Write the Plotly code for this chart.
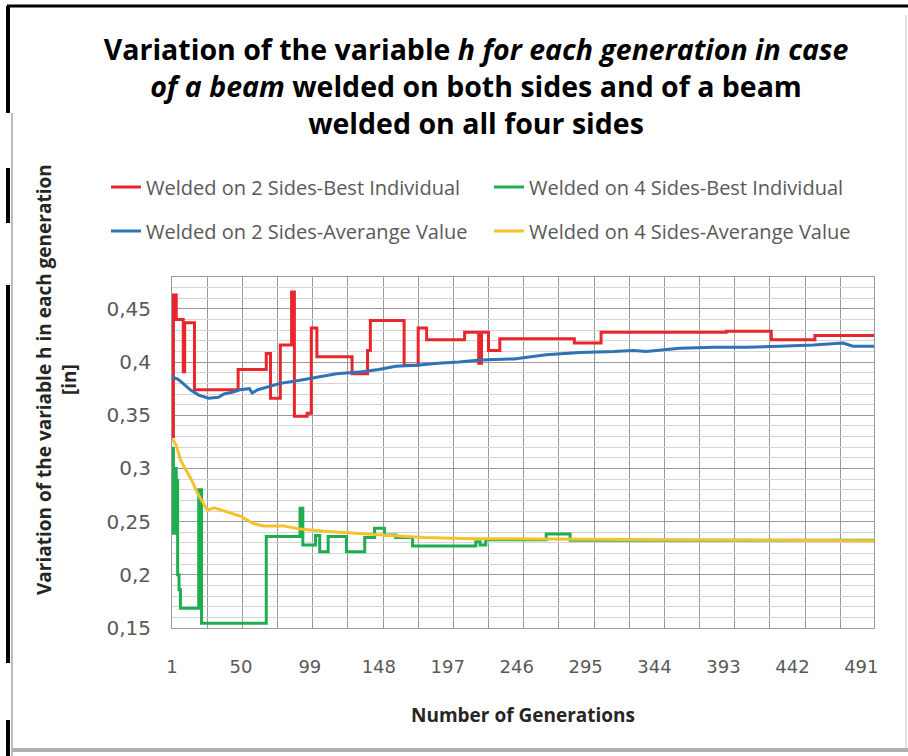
import plotly.graph_objects as go

# generations where the best-individual curves change value (drawn as steps)
red_gen = [1, 2, 4, 9, 10, 17, 48, 68, 71, 78, 86, 88, 97, 100, 104, 129, 140, 142, 166, 176,
           182, 209, 219, 221, 226, 234, 287, 306, 395, 427, 458, 500]
red_val = [0.33, 0.463, 0.440, 0.391, 0.437, 0.374, 0.393, 0.408, 0.366, 0.416, 0.466, 0.349,
           0.352, 0.432, 0.405, 0.389, 0.411, 0.439, 0.397, 0.432, 0.421, 0.428, 0.399, 0.428,
           0.411, 0.422, 0.418, 0.428, 0.429, 0.421, 0.425, 0.425]

green_gen = [1, 2, 3, 4, 5, 6, 7, 20, 22, 68, 92, 94, 103, 106, 112, 125, 138, 145, 152, 160,
             172, 217, 220, 224, 267, 284, 500]
green_val = [0.319, 0.239, 0.300, 0.289, 0.200, 0.186, 0.1685, 0.280, 0.1545, 0.236, 0.2625,
             0.228, 0.237, 0.2217, 0.236, 0.2217, 0.235, 0.2437, 0.2375, 0.235, 0.227, 0.231,
             0.228, 0.233, 0.2384, 0.2325, 0.2325]

# averages
blue_gen = [1, 5, 8, 14, 20, 27, 34, 38, 45, 49, 56, 58, 62, 71, 78, 92, 104, 118, 136, 148,
            160, 175, 190, 205, 220, 244, 267, 291, 315, 329, 338, 362, 386, 410, 433, 457,
            478, 485, 500]
blue_val = [0.386, 0.384, 0.381, 0.374, 0.369, 0.366, 0.367, 0.370, 0.372, 0.374, 0.375, 0.371,
            0.374, 0.377, 0.380, 0.383, 0.386, 0.389, 0.391, 0.393, 0.396, 0.397, 0.399, 0.400,
            0.402, 0.403, 0.407, 0.409, 0.410, 0.411, 0.410, 0.413, 0.414, 0.414, 0.415, 0.416,
            0.418, 0.415, 0.415]

yellow_gen = [1, 4, 7, 11, 15, 19, 23, 26, 31, 40, 50, 59, 66, 80, 92, 109, 130, 156, 180,
              215, 350, 500]
yellow_val = [0.328, 0.322, 0.308, 0.298, 0.289, 0.277, 0.268, 0.261, 0.263, 0.259, 0.255,
              0.248, 0.246, 0.246, 0.243, 0.241, 0.239, 0.237, 0.235, 0.234, 0.233, 0.232]

names = ["Welded on 2 Sides-Best Individual", "Welded on 4 Sides-Best Individual",
         "Welded on 2 Sides-Averange Value", "Welded on 4 Sides-Averange Value"]

W, H = 908, 756
L, R, T, B = 172, 874, 277, 628


def px(x):
    return (x - L) / (R - L)


def py(y):
    return (B - y) / (B - T)


fig = go.Figure()
fig.add_trace(go.Scatter(x=red_gen, y=red_val, name=names[0], mode="lines", line_shape="hv",
                         line=dict(color="#e8262b", width=3), legend="legend"))
fig.add_trace(go.Scatter(x=green_gen, y=green_val, name=names[1], mode="lines", line_shape="hv",
                         line=dict(color="#1fae4f", width=3), legend="legend"))
fig.add_trace(go.Scatter(x=blue_gen, y=blue_val, name=names[2], mode="lines",
                         line=dict(color="#2f72b5", width=3), legend="legend2"))
fig.add_trace(go.Scatter(x=yellow_gen, y=yellow_val, name=names[3], mode="lines",
                         line=dict(color="#f5c22c", width=3), legend="legend2"))

font = "Open Sans, Lato, sans-serif"
legfont = dict(family=font, size=20, color="#595959")

fig.update_layout(
    width=W, height=H,
    margin=dict(l=L, r=W - R, t=T, b=H - B, autoexpand=False),
    paper_bgcolor="white", plot_bgcolor="white",
    separators=",.",
    font=dict(family=font, color="#595959"),
    title=dict(
        text="Variation of the variable <i>h for each generation in case</i><br>"
             "<i>of a beam</i> welded on both sides and of a beam<br>welded on all four sides",
        x=476 / W, xanchor="center", y=1 - 60 / H, yanchor="top",
        font=dict(family=font, size=28.5, color="black", weight="bold"),
    ),
    legend=dict(orientation="h", x=px(106), xanchor="left", y=py(187), yanchor="middle",
                entrywidth=338, font=legfont, bgcolor="rgba(0,0,0,0)", itemwidth=30),
    legend2=dict(orientation="h", x=px(106), xanchor="left", y=py(231), yanchor="middle",
                 entrywidth=338, font=legfont, bgcolor="rgba(0,0,0,0)", itemwidth=30),
    showlegend=True,
)

fig.update_xaxes(
    range=[1, 500], tick0=1, dtick=49, showgrid=False, zeroline=False,
    ticks="outside", ticklen=22, tickcolor="rgba(0,0,0,0)",
    tickfont=dict(family="DejaVu Sans, sans-serif", size=18, color="#595959"),
    showline=True, linecolor="#9a9a9a", linewidth=1, mirror=True,
    minor=dict(tick0=1, dtick=25, showgrid=True, gridcolor="#9a9a9a", gridwidth=1),
)
fig.update_yaxes(
    range=[0.15, 0.48], tick0=0.15, dtick=0.05, showgrid=True, gridcolor="#9a9a9a",
    gridwidth=1, zeroline=False,
    ticks="outside", ticklen=16, tickcolor="rgba(0,0,0,0)",
    tickfont=dict(family="DejaVu Sans, sans-serif", size=20, color="#595959"),
    showline=True, linecolor="#9a9a9a", linewidth=1, mirror=True,
    minor=dict(tick0=0.15, dtick=0.01, showgrid=True, gridcolor="#d4d4d4", gridwidth=1),
)

fig.add_annotation(text="Variation of the variable h in each generation<br>[in]",
                   textangle=-90, x=px(56), y=py(380), xref="paper", yref="paper",
                   xanchor="center", yanchor="middle", showarrow=False,
                   font=dict(family=font, size=19, color="#262626", weight="bold"))
fig.add_annotation(text="Number of Generations", x=0.5, y=py(715), xref="paper", yref="paper",
                   xanchor="center", yanchor="middle", showarrow=False,
                   font=dict(family=font, size=19, color="#262626", weight="bold"))

# scanned page frame
frame = [
    (7, 6, 908, 6, "black", 3),
    (8, 6, 8, 113, "black", 4),
    (8, 168, 8, 223, "black", 4),
    (8, 285, 8, 663, "black", 4),
    (8, 720, 8, 756, "black", 4),
    (12, 113, 12, 756, "#bdbdbd", 2),
    (12, 750, 908, 750, "#b0b0b0", 4),
    (906, 15, 906, 748, "#e0e0e0", 2),
]
for x0, y0, x1, y1, c, w in frame:
    fig.add_shape(type="line", xref="paper", yref="paper", x0=px(x0), y0=py(y0),
                  x1=px(x1), y1=py(y1), line=dict(color=c, width=w))

# page body has a default 8px margin; drop it so the figure sits at the window origin
fig.write_html("out.html", config={"displayModeBar": False},
               post_script="document.body.style.margin='0';")
